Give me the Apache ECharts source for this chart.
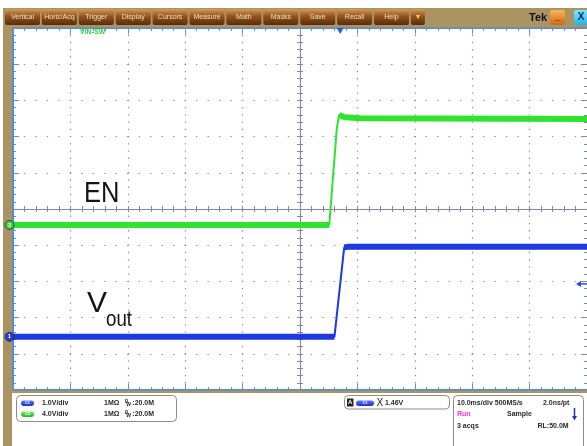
<!DOCTYPE html>
<html>
<head>
<meta charset="utf-8">
<title>EN / Vout</title>
<script src="https://cdn.jsdelivr.net/npm/echarts@6/dist/echarts.min.js"></script>
<style>
html,body{margin:0;padding:0;background:#ffffff;overflow:hidden;}
#chart{width:587px;height:446px;}
</style>
</head>
<body>
<div id="chart"></div>
<script>
// ---- waveform data ----
const timeEN   = [-50, 5.1, 6.4, 6.8, 7.8, 10.5, 50];      // ms
const voltEN   = [0, 0, 10.6, 12.15, 11.9, 11.8, 11.7];   // V  (C3, "EN")
const timeVout = [-50, 6.0, 7.7, 8.5, 50];                 // ms
const voltVout = [0, 0, 2.47, 2.49, 2.49];                 // V  (C1, "Vout")

// ---- scope settings ----
const timePerDiv   = 10;                    // ms/div
const voltsPerDiv  = {C1: 1.0, C3: 4.0};    // V/div
const groundDiv    = {C1: -3.53, C3: -0.44};// ground marker position (div from centre)
const triggerTime  = 7.0;                   // ms
const triggerLevel = 1.46;                  // V on C1

const menuLabels = ['Vertical','Horiz/Acq','Trigger','Display','Cursors','Measure','Math','Masks','Save','Recall','Help','\u25BC'];

// ---- chart ----
const F = '"Liberation Sans", Arial, Helvetica, sans-serif';
const G = {left: 13, top: 28, width: 574, height: 362};
const dX = G.width / 10, dY = G.height / 10;
const frameCol = '#4b8fe3', tickCol = '#7f89a6', dotCol = '#8e8e8e', centerCol = '#7f89a6';

const chart = echarts.init(document.getElementById('chart'), null, {renderer: 'canvas', width: 587, height: 446});

function tAxis(extra) {
  return Object.assign({type: 'value', min: -5 * timePerDiv, max: 5 * timePerDiv, interval: timePerDiv,
    axisLabel: {show: false}, splitLine: {show: false}}, extra);
}
function dAxis(extra) {
  return Object.assign({type: 'value', min: -5, max: 5, interval: 1,
    axisLabel: {show: false}, splitLine: {show: false}}, extra);
}
function vAxis(ch) {
  const g = groundDiv[ch], s = voltsPerDiv[ch];
  return {type: 'value', show: false, min: (-5 - g) * s, max: (5 - g) * s};
}
function ticks(inside, len) { return {show: true, inside: inside, length: len, lineStyle: {color: tickCol, width: 1}}; }
function minor(len) { return {show: true, splitNumber: 5, length: len, lineStyle: {color: tickCol, width: 1}}; }

function band(ts, vs, s) {
  const out = [];
  for (let i = 0; i < ts.length; i++) {
    if (i > 0 && Math.abs(vs[i] - vs[i - 1]) > 0.3 * s) out.push(['-', '-']);
    out.push([ts[i], vs[i]]);
  }
  return out;
}
function pairs(ts, vs) { return ts.map((t, i) => [t, vs[i]]); }

const greenCol = '#30e330', blueCol = '#1c3ae2';

const option = {
  animation: false,
  backgroundColor: '#ffffff',
  grid: Object.assign({containLabel: false, outerBoundsMode: 'none'}, G),
  xAxis: [
    tAxis({position: 'bottom', axisLine: {onZero: false, lineStyle: {color: frameCol, width: 2}},
      axisTick: ticks(true, 6), minorTick: minor(3),
      splitLine: {show: true, lineStyle: {color: dotCol, width: 1.2, type: [1.4, dY / 5 - 1.4], dashOffset: 0.7}}}),
    tAxis({position: 'top', axisLine: {onZero: false, lineStyle: {color: frameCol, width: 2}},
      axisTick: ticks(true, 6), minorTick: minor(3)}),
    tAxis({position: 'bottom', axisLine: {onZero: true, onZeroAxisIndex: 0, lineStyle: {color: centerCol, width: 1}},
      axisTick: ticks(true, 3), minorTick: minor(3)}),
    tAxis({position: 'bottom', axisLine: {show: false, onZero: true, onZeroAxisIndex: 0},
      axisTick: ticks(false, 3), minorTick: minor(3)})
  ],
  yAxis: [
    dAxis({position: 'left', axisLine: {onZero: false, lineStyle: {color: frameCol, width: 2}},
      axisTick: ticks(true, 6), minorTick: minor(3),
      splitLine: {show: true, lineStyle: {color: dotCol, width: 1.2, type: [1.4, dX / 5 - 1.4], dashOffset: 0.7}}}),
    dAxis({position: 'right', axisLine: {show: false, onZero: false},
      axisTick: ticks(true, 6), minorTick: minor(3)}),
    dAxis({position: 'left', axisLine: {onZero: true, onZeroAxisIndex: 0, lineStyle: {color: centerCol, width: 1}},
      axisTick: ticks(true, 3), minorTick: minor(3)}),
    dAxis({position: 'left', axisLine: {show: false, onZero: true, onZeroAxisIndex: 0},
      axisTick: ticks(false, 3), minorTick: minor(3)}),
    vAxis('C1'),
    vAxis('C3')
  ],
  series: [
    {type: 'line', name: 'EN band', xAxisIndex: 0, yAxisIndex: 5, data: band(timeEN, voltEN, voltsPerDiv.C3),
      symbol: 'none', connectNulls: false, lineStyle: {color: greenCol, width: 6}, z: 3, silent: true},
    {type: 'line', name: 'EN', xAxisIndex: 0, yAxisIndex: 5, data: pairs(timeEN, voltEN),
      symbol: 'none', lineStyle: {color: greenCol, width: 2}, z: 3, silent: true},
    {type: 'line', name: 'Vout band', xAxisIndex: 0, yAxisIndex: 4, data: band(timeVout, voltVout, voltsPerDiv.C1),
      symbol: 'none', connectNulls: false, lineStyle: {color: blueCol, width: 6}, z: 4, silent: true},
    {type: 'line', name: 'Vout', xAxisIndex: 0, yAxisIndex: 4, data: pairs(timeVout, voltVout),
      symbol: 'none', lineStyle: {color: blueCol, width: 2}, z: 4, silent: true}
  ]
};
chart.setOption(option);

// ---- screen chrome (positions of markers come from the axes) ----
const px = (yIdx, t, v) => chart.convertToPixel({xAxisIndex: 0, yAxisIndex: yIdx}, [t, v]);
const gC1 = px(4, 0, 0)[1], gC3 = px(5, 0, 0)[1];
const trig = px(4, triggerTime, triggerLevel);

const g = [];
const tan = '#ab9462';
const txt = (x, y, s, font, fill, extra) => Object.assign({type: 'text', x: x, y: y, z: 20,
  style: {text: s, font: font, fill: fill || '#2a2a2a', align: 'left', verticalAlign: 'middle'}}, extra || {});
const bold7 = 'bold 7px ' + F;

g.push({type: 'rect', z: 1, shape: {x: 3, y: 8, width: 584, height: 19.5}, style: {fill: tan}});
g.push({type: 'rect', z: 1, shape: {x: 3, y: 8, width: 9, height: 438}, style: {fill: tan}});
g.push({type: 'rect', z: 1, shape: {x: 3, y: 390.5, width: 584, height: 2.5}, style: {fill: tan}});

menuLabels.forEach((lab, i) => {
  const x = 5 + i * 36.9, w = (i === menuLabels.length - 1) ? 14 : 35;
  g.push({type: 'rect', z: 2, shape: {x: x, y: 9, width: w, height: 16, r: 2},
    style: {fill: {type: 'linear', x: 0, y: 0, x2: 0, y2: 1, colorStops: [
      {offset: 0, color: '#d39c5a'}, {offset: 0.45, color: '#93541e'}, {offset: 1, color: '#5a2b08'}]}}});
  g.push({type: 'text', z: 3, x: x + w / 2, y: 17.5,
    style: {text: lab, font: '7px ' + F,
      fill: i === menuLabels.length - 1 ? '#f6d640' : '#f2e2bd', align: 'center', verticalAlign: 'middle'}});
});
g.push(txt(529, 17.5, 'Tek', 'bold 11px ' + F, '#111111'));
g.push({type: 'rect', z: 2, shape: {x: 550, y: 10, width: 15, height: 15, r: 2},
  style: {fill: {type: 'linear', x: 0, y: 0, x2: 0, y2: 1, colorStops: [{offset: 0, color: '#f8b65a'}, {offset: 1, color: '#cf6812'}]}}});
g.push({type: 'text', z: 3, x: 557.5, y: 16, style: {text: '_', font: 'bold 10px ' + F, fill: '#3a1a00', align: 'center', verticalAlign: 'middle'}});
g.push({type: 'rect', z: 2, shape: {x: 574, y: 10, width: 16, height: 15, r: 2},
  style: {fill: {type: 'linear', x: 0, y: 0, x2: 0, y2: 1, colorStops: [{offset: 0, color: '#7de6fb'}, {offset: 1, color: '#1fb6e6'}]}}});
g.push({type: 'text', z: 3, x: 581, y: 17.5, style: {text: 'X', font: 'bold 10px ' + F, fill: '#0a2a55', align: 'center', verticalAlign: 'middle'}});

// channel label at top
g.push(txt(80, 32.5, 'VIN-SW', 'bold 7px ' + F, '#2fd52f'));

// trigger markers
g.push({type: 'polygon', z: 10, shape: {points: [[trig[0] - 3.5, 28], [trig[0] + 3.5, 28], [trig[0], 34]]}, style: {fill: '#2a5be0'}});
g.push({type: 'polygon', z: 10, shape: {points: [[576, trig[1]], [581, trig[1] - 3], [581, trig[1] + 3]]}, style: {fill: '#2050e0'}});
g.push({type: 'line', z: 10, shape: {x1: 580, y1: trig[1], x2: 587, y2: trig[1]}, style: {stroke: '#2050e0', lineWidth: 1.5}});

// ground markers
g.push({type: 'circle', z: 10, shape: {cx: 9.5, cy: gC3, r: 4.5}, style: {fill: '#3ad13a', stroke: '#2b2b2b', lineWidth: 0.8}});
g.push({type: 'text', z: 11, x: 9.5, y: gC3, style: {text: '3', font: 'bold 6px ' + F, fill: '#ffffff', align: 'center', verticalAlign: 'middle'}});
g.push({type: 'circle', z: 10, shape: {cx: 9.5, cy: gC1, r: 4.5}, style: {fill: '#1f3fe0', stroke: '#2b2b2b', lineWidth: 0.8}});
g.push({type: 'text', z: 11, x: 9.5, y: gC1, style: {text: '1', font: 'bold 6px ' + F, fill: '#ffffff', align: 'center', verticalAlign: 'middle'}});

// annotations
g.push(txt(84, 194, 'EN', '30px ' + F, '#141414', {scaleX: 0.85}));
g.push(txt(87, 304, 'V', '30px ' + F, '#141414'));
g.push(txt(106, 319.5, 'out', '22px ' + F, '#141414', {scaleX: 0.85}));

// bottom info boxes
function box(x, y, w, h) { g.push({type: 'rect', z: 5, shape: {x: x, y: y, width: w, height: h, r: 4}, style: {fill: '#ffffff', stroke: '#8c8c8c', lineWidth: 1}}); }
function oval(x, y, w, label, c1, c2) {
  g.push({type: 'rect', z: 21, shape: {x: x, y: y - 2.75, width: w, height: 5.5, r: 2.75},
    style: {fill: {type: 'linear', x: 0, y: 0, x2: 0, y2: 1, colorStops: [{offset: 0, color: c1}, {offset: 1, color: c2}]}}});
  g.push({type: 'text', z: 22, x: x + w / 2, y: y, style: {text: label, font: 'bold 4px ' + F, fill: '#ffffff', align: 'center', verticalAlign: 'middle'}});
}
box(16.5, 395.5, 160, 26);
box(344.5, 395.5, 105, 13.5);
box(453.5, 395.5, 130, 60);

const r1 = 403.3, r2 = 414.3, r3 = 425.8;
oval(21, r1, 13, 'C1', '#5a78f5', '#1630c8');
g.push(txt(42, r1, (voltsPerDiv.C1).toFixed(1) + 'V/div', bold7));
g.push(txt(104, r1, '1M\u03A9', bold7));
g.push(txt(125, r1 - 2, 'B', 'bold 4.5px ' + F));
g.push(txt(126.3, r1 + 1.3, 'W', 'bold 5px ' + F));
g.push(txt(132.3, r1, ':20.0M', bold7));
oval(21, r2, 13, 'C3', '#6cf06c', '#22b522');
g.push(txt(42, r2, (voltsPerDiv.C3).toFixed(1) + 'V/div', bold7));
g.push(txt(104, r2, '1M\u03A9', bold7));
g.push(txt(125, r2 - 2, 'B', 'bold 4.5px ' + F));
g.push(txt(126.3, r2 + 1.3, 'W', 'bold 5px ' + F));
g.push(txt(132.3, r2, ':20.0M', bold7));

g.push({type: 'rect', z: 21, shape: {x: 347, y: 398.5, width: 6.5, height: 8}, style: {fill: '#262626'}});
g.push({type: 'text', z: 22, x: 350.25, y: 402.8, style: {text: 'A', font: 'bold 6px ' + F, fill: '#ffffff', align: 'center', verticalAlign: 'middle'}});
oval(356, r1, 18, 'C1', '#5a78f5', '#1630c8');
g.push(txt(376.5, r1 + 0.3, 'X', '10px ' + F, '#222222'));
g.push(txt(385, r1, triggerLevel.toFixed(2) + 'V', bold7));

g.push(txt(457, r1, '10.0ms/div 500MS/s', bold7));
g.push(txt(543, r1, '2.0ns/pt', bold7));
g.push(txt(457, r2, 'Run', bold7, '#ff2fd0'));
g.push(txt(507, r2, 'Sample', bold7));
g.push({type: 'line', z: 21, shape: {x1: 574.5, y1: 408, x2: 574.5, y2: 417}, style: {stroke: '#1a35c0', lineWidth: 1.5}});
g.push({type: 'polygon', z: 21, shape: {points: [[572, 416], [577, 416], [574.5, 420.5]]}, style: {fill: '#1a35c0'}});
g.push(txt(457, r3, '3 acqs', bold7));
g.push(txt(537.5, r3, 'RL:50.0M', bold7));

chart.setOption({graphic: g});
</script>
</body>
</html>
